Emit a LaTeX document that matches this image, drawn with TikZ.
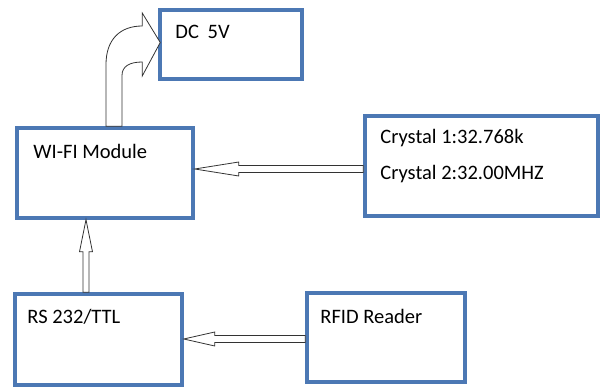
\documentclass[tikz,border=0pt]{standalone}
\usepackage{fontspec}
\setmainfont{Carlito}
\usetikzlibrary{calc}
\definecolor{boxblue}{RGB}{76,120,180}

\begin{document}
\begin{tikzpicture}[x=1pt, y=1pt]
    \tikzstyle{block}=[draw=boxblue, line width=3.5pt, fill=white, inner sep=0pt]
    \tikzstyle{caption}=[anchor=base west, inner sep=0pt, font=\fontsize{20.5}{24}\selectfont]
    \tikzstyle{hollow}=[draw=black!80, line width=0.8pt, fill=white, line join=miter]

    \useasboundingbox (0,0) rectangle (600,-387);

    % boxes: name/left/top/right/bottom
    \foreach \n/\l/\t/\r/\b in {dc/160/10/302/79, wifi/17/128/193/218,
      crystal/365/116/598/216, rs/15/294/182/385, rfid/307/293/465/382}
    \node [block, minimum width=\r-\l, minimum height=\b-\t] (\n)
    at ({(\l+\r)/2}, {-(\t+\b)/2}) {};

    % texts in the boxes
    \node [caption] (dc-text) at ($(dc.north west)+(17,-30)$) {DC\ \kern4pt5V};
    \node [caption] (wifi-text) at ($(wifi.north west)+(18,-32)$) {WI-FI Module};
    \node [caption] (crystal-1) at ($(crystal.north west)+(17,-29)$) {Crystal 1:32.768k};
    \node [caption] (crystal-2) at ($(crystal.north west)+(17,-65)$) {Crystal 2:32.00MHZ};
    \node [caption] (rs-text) at ($(rs.north west)+(14,-31)$) {RS 232/TTL};
    \node [caption] (rfid-text) at ($(rfid.north west)+(15,-32)$) {RFID Reader};

    % hollow arrows into the left boxes
    \foreach \a/\b/\d/\h in {crystal/wifi/4/44, rfid/rs/0.5/31}
    \draw [hollow] let \p1=(\a.west), \p2=(\b.east) in
    (\x2,\y2+\d) -- ++(\h,7) -- ++(0,-3.5) -- (\x1,\y2+\d+3.5) -- ++(0,-7)
    -- (\x2+\h,\y2+\d-3.5) -- ++(0,-3.5) -- cycle;

    % RS 232 up to the module
    \draw [hollow] let \p1=(rs.north), \p2=(wifi.south) in
    (\x2-19,\y2) -- ++(6.5,-32) -- ++(-3.5,0) -- (\x2-16,\y1) -- ++(-6,0)
    -- (\x2-22,\y2-32) -- ++(-3.5,0) -- cycle;

    % bent arrow from the module to DC 5V
    \draw [hollow] let \p1=(wifi.north), \p2=(dc.west) in
    (\x1+1,\y1) -- (\x1+1,\y2-20)
    .. controls (\x1+1,\y2+5) and (\x1+15,\y2+18.5) .. (\x2-16,\y2+18.5)
    -- (\x2-16,\y2+31.5) -- (\x2+2,\y2+2) -- (\x2-16,\y2-31.5) -- (\x2-16,\y2-17.5)
    .. controls (\x2-29,\y2-17.5) and (\x1+17,\y2-22) .. (\x1+17,\y2-31)
    -- (\x1+17,\y1) -- cycle;

\end{tikzpicture}
\end{document}
